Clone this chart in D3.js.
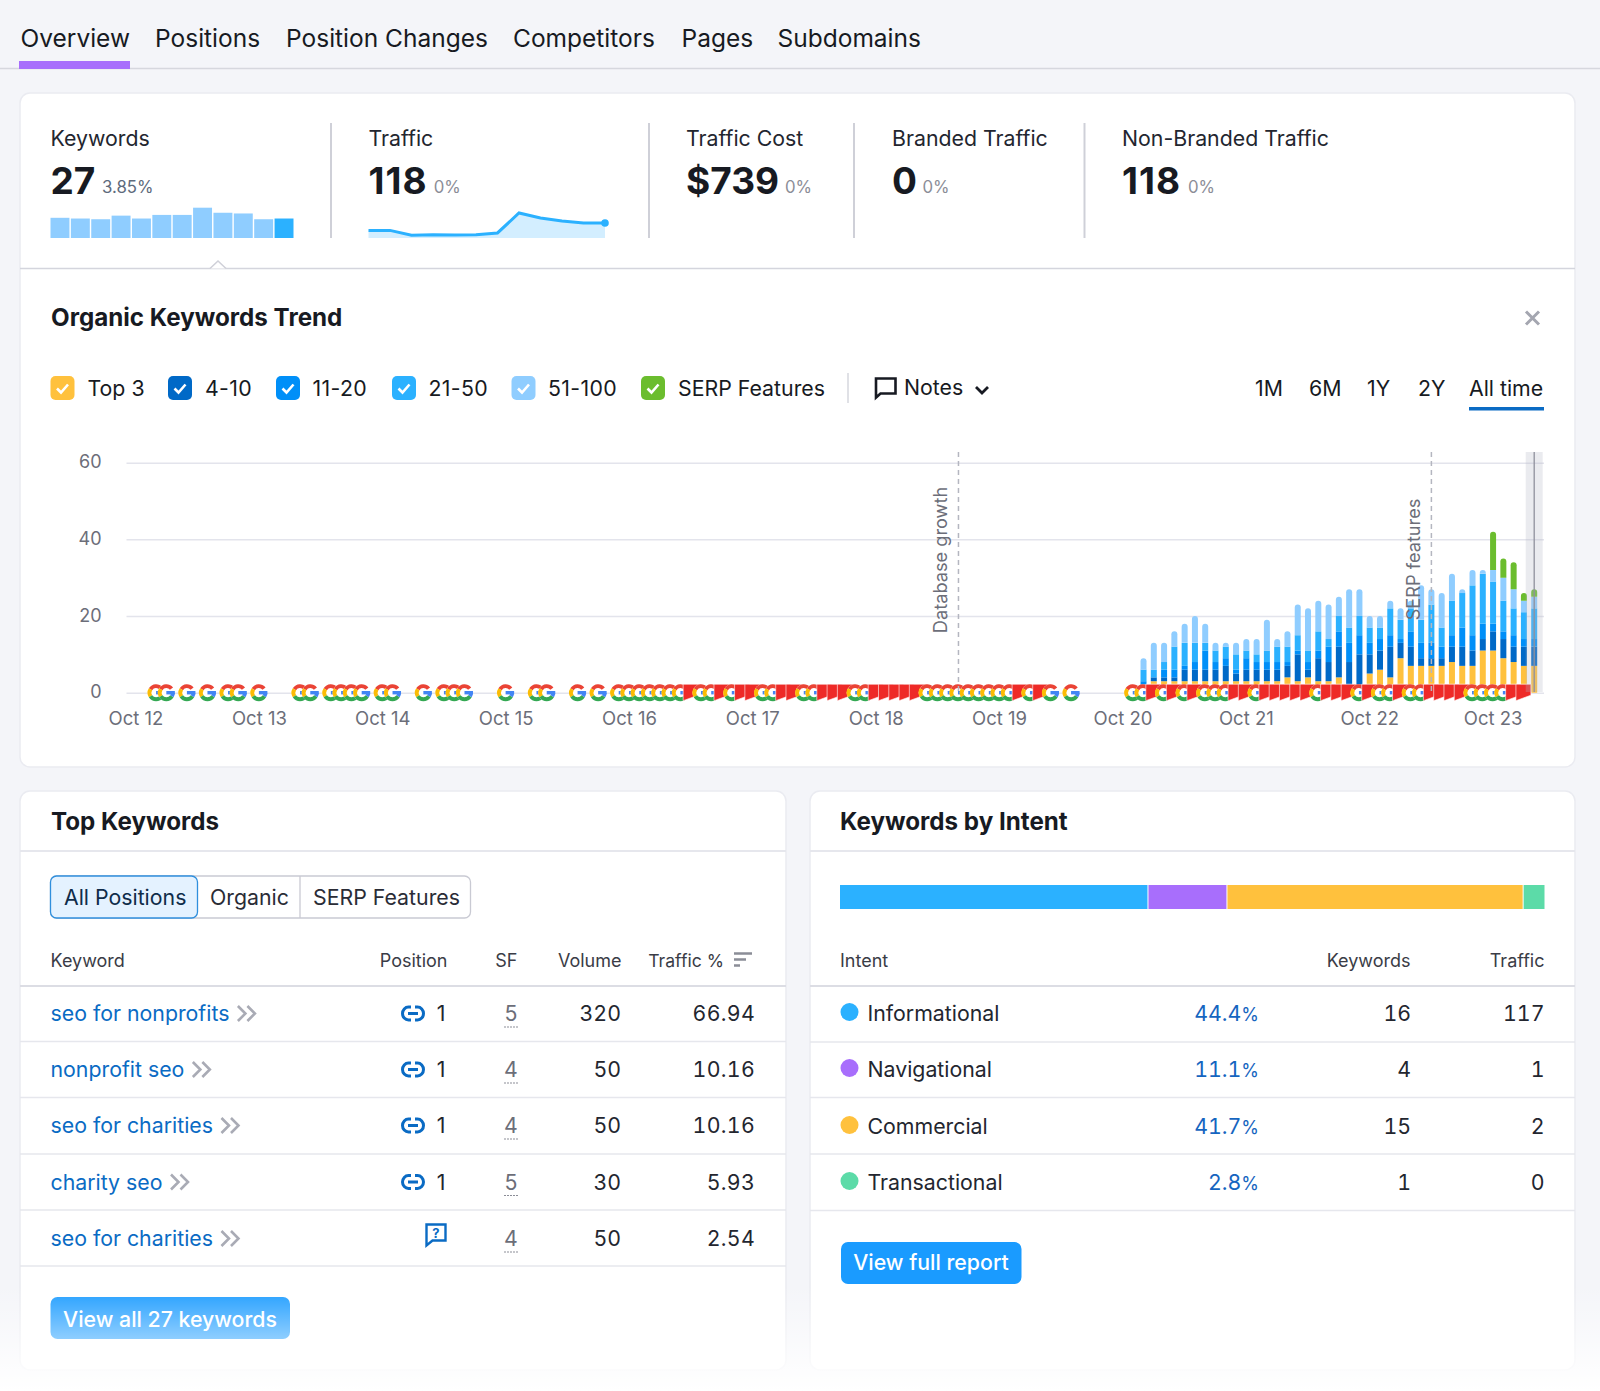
<!DOCTYPE html>
<html>
<head>
<meta charset="utf-8">
<script src="https://cdn.jsdelivr.net/npm/d3@7"></script>
<style>
  html, body { margin: 0; padding: 0; background: #f4f5f9; }
  svg { display: block; }
  text { font-family: Inter, "Noto Sans", sans-serif; }
  .num { font-variant-numeric: tabular-nums; }
</style>
</head>
<body>
<div id="page"></div>
<script>
// trend chart, one entry per month, first bar sits at barStart
var yearLabels = ["Oct 12","Oct 13","Oct 14","Oct 15","Oct 16","Oct 17","Oct 18","Oct 19","Oct 20","Oct 21","Oct 22","Oct 23"];
var yearMonths = [0,12,24,36,48,60,72,84,96,108,120,132];
var yTicks = [0,20,40,60];
var barStart = 98;
var top3    = [0,3,3,3,3,3,3,3,3,3,3,3,3,3,4,3,4,3,3,4,0,0,5,6,4,9,7,7,7,7,8,7,7,11,11,9,8,7,7];
var pos4_10 = [2,1,1,1,3,3,3,3,4,2,3,3,3,3,3,7,2,6,5,8,8,10,5,5,8,4,5,2,2,2,4,5,4,3,5,5,4,5,5];
var pos11_20= [1,0,2,2,1,2,5,2,2,1,3,2,2,2,1,1,2,2,4,4,5,5,3,3,3,1,4,4,4,3,3,5,4,4,2,2,3,2,2];
var pos21_50= [3,2,2,6,6,5,2,3,3,4,2,2,3,4,4,4,3,5,2,4,4,5,4,3,7,5,6,6,10,5,9,9,13,13,11,8,7,7,8];
var pos51_100=[3,7,5,4,5,7,5,2,1,3,3,4,8,2,4,8,11,8,9,5,10,7,3,3,2,3,2,9,4,9,7,1,4,1,3,6,5,3,3];
var serpBars= [0,0,0,0,0,0,0,0,0,0,0,0,0,0,0,0,0,0,0,0,0,0,0,0,0,0,0,0,0,0,0,0,0,0,10,5,7,2,2];
var stackKeys = ["top3","pos4_10","pos11_20","pos21_50","pos51_100","serp"];
var stackColors = ["#ffc13d","#0069c7","#008ff8","#2bb1ff","#8fcdff","#6bbd2e"];

// baseline markers, by month index
var googleMarks = [2,3,5,7,9,10,12,16,17,19,20,21,22,24,25,28,30,31,32,36,39,40,43,45,47,48,49,50,51,52,53,55,56,58,61,62,65,66,70,71,77,78,79,80,81,82,83,84,85,87,89,91,97,98,100,102,104,105,106,109,115,119,121,122,124,125,130,131,132,133];
var flagMarks = [54,57,59,60,63,64,67,68,69,72,73,74,75,76,86,88,99,101,103,107,108,110,111,112,113,114,116,117,118,120,123,126,127,128,129,134,135];
var notesAt = [80,126];
var notesText = ["Database growth","SERP features"];
var hoverMonth = 136;

// summary strip
var statNames = ["Keywords","Traffic","Traffic Cost","Branded Traffic","Non-Branded Traffic"];
var statValues = ["27","118","$739","0","118"];
var statDeltas = ["3.85%","0%","0%","0%","0%"];
var keywordSpark = [28,27,26,31,27,32,32,42,35,34,26,27];
var trafficSpark = [60,60,21,26,24,26,40,197,158,134,118,118];

// tabs and legend
var tabNames = ["Overview","Positions","Position Changes","Competitors","Pages","Subdomains"];
var legendNames = ["Top 3","4-10","11-20","21-50","51-100","SERP Features"];
var rangeNames = ["1M","6M","1Y","2Y","All time"];

// top keywords table
var keywords = ["seo for nonprofits","nonprofit seo","seo for charities","charity seo","seo for charities"];
var positions = ["1","1","1","1",""];
var sfCounts = [5,4,4,5,4];
var volumes = [320,50,50,30,50];
var trafficShare = ["66.94","10.16","10.16","5.93","2.54"];

// intent table
var intents = ["Informational","Navigational","Commercial","Transactional"];
var intentPct = [44.4,11.1,41.7,2.8];
var intentKeywords = [16,4,15,1];
var intentTraffic = [117,1,2,0];
var intentColors = ["#2bb1ff","#a86efc","#ffc13d","#5cdba8"];
// segment widths in the picture, they don't quite follow the table
var intentShare = [43.6,11.2,42.0,3.1];

var svg = d3.select("#page").append("svg").attr("width", 1600).attr("height", 1391);
var defs = svg.append("defs");
var INK = "#171a22", GREY = "#6c6e79", LINE = "#e3e4ec", BLUE = "#0a6bc4";
var BODY = 21.3;

function txt(x, y, s, size, color, weight, anchor) {
  return svg.append("text").attr("x", x).attr("y", y).attr("dy", "0.36em")
    .attr("font-size", size).attr("fill", color || INK)
    .attr("font-weight", weight || 400).attr("text-anchor", anchor || "start").text(s);
}
function hline(x1, x2, y, color, w) {
  svg.append("line").attr("x1", x1).attr("x2", x2).attr("y1", y).attr("y2", y)
    .attr("stroke", color || LINE).attr("stroke-width", w || 1.5);
}
function vline(x, y1, y2, color, w) {
  svg.append("line").attr("x1", x).attr("x2", x).attr("y1", y1).attr("y2", y2)
    .attr("stroke", color || "#cfd0d8").attr("stroke-width", w || 2);
}
function card(x, y, w, h) {
  svg.append("rect").attr("x", x).attr("y", y).attr("width", w).attr("height", h).attr("rx", 10)
    .attr("fill", "#fff").attr("stroke", "#eaebf1").attr("stroke-width", 1.5);
}

// ---- tabs
var tabX = [20.5,155,286,513,681.5,777.5];
tabNames.forEach(function(t, i){ txt(tabX[i], 38, t, 24.5, INK); });
hline(0, 1600, 68.5, "#d6d7de", 1.5);
svg.append("rect").attr("x", 19).attr("y", 61).attr("width", 111).attr("height", 8).attr("fill", "#a86efc");

// ---- cards
card(20, 93, 1555, 674);
card(20, 791, 766, 579);
card(810, 791, 765, 579);

// ---- summary strip
var statX = [50.5,368.5,686,892,1122];
var deltaX = [102,433.7,785,922.5,1188];
statNames.forEach(function(n, i){
  txt(statX[i], 138, n, 21.3, "#23262f");
  var big = txt(statX[i], 180.5, statValues[i], 37, INK, 700);
  if (statValues[i] == "118") big.attr("letter-spacing", 1.1);
  txt(deltaX[i], 187, statDeltas[i], 16.8, i == 0 ? "#5e6a7c" : "#8b8d97");
});
[331,649,854,1084.5].forEach(function(x){ vline(x, 123, 238); });

var kwX = d3.scaleBand().domain(d3.range(keywordSpark.length)).range([50.5,293.5]).paddingInner(0.07);
var kwY = d3.scaleLinear().domain([0,42]).range([238,207.7]);
svg.append("g").selectAll("rect").data(keywordSpark).enter().append("rect")
  .attr("x", function(d, i){ return kwX(i); }).attr("width", kwX.bandwidth())
  .attr("y", function(d){ return kwY(d); }).attr("height", function(d){ return kwY(0) - kwY(d); })
  .attr("fill", function(d, i){ return i == keywordSpark.length - 1 ? "#2bb1ff" : "#8fcdff"; });

var trX = d3.scaleLinear().domain([0,trafficSpark.length - 1]).range([368.5,605]);
var trY = d3.scaleLinear().domain([0,197]).range([238,213]);
svg.append("path").datum(trafficSpark).attr("fill", "#d3eeff")
  .attr("d", d3.area().x(function(d, i){ return trX(i); }).y0(238).y1(function(d){ return trY(d); }));
svg.append("path").datum(trafficSpark).attr("fill", "none").attr("stroke", "#2bb1ff").attr("stroke-width", 3)
  .attr("d", d3.line().x(function(d, i){ return trX(i); }).y(function(d){ return trY(d); }));
svg.append("circle").attr("cx", trX(trafficSpark.length - 1)).attr("cy", trY(118)).attr("r", 3.8).attr("fill", "#2bb1ff");

hline(20, 1575, 268.5, "#d4d5dd", 1.5);
svg.append("path").attr("d", "M210,268.5L218,261L226,268.5").attr("fill", "#fff").attr("stroke", "#cfd0d8").attr("stroke-width", 1.5);

// ---- trend header
txt(51, 317, "Organic Keywords Trend", 24.2, INK, 700);
svg.append("path").attr("d", "M1526,311.5L1539,324.5M1539,311.5L1526,324.5").attr("stroke", "#a4a6b0").attr("stroke-width", 3).attr("fill", "none");

var legendBoxX = [50.5,168,276,392,511.5,641];
var legendTextX = [87.5,205,312.5,428.5,548,678];
var legendColors = stackColors.slice();
legendNames.forEach(function(n, i){
  svg.append("rect").attr("x", legendBoxX[i]).attr("y", 376).attr("width", 24).attr("height", 24).attr("rx", 5).attr("fill", legendColors[i]);
  svg.append("path").attr("d", "M" + (legendBoxX[i] + 6.5) + ",388.5l4,4l7,-8").attr("fill", "none").attr("stroke", "#fff").attr("stroke-width", 2.6);
  var t = txt(legendTextX[i], 388, n, BODY, INK);
  if (i > 0 && i < 5) t.attr("letter-spacing", 0.35);
});
vline(848, 373, 403, "#d6d7de", 1.5);
svg.append("path").attr("d", "M876,378.5h19.5v15h-15l-4.5,4z").attr("fill", "none").attr("stroke", INK).attr("stroke-width", 2.6);
txt(904, 387, "Notes", BODY, INK);
svg.append("path").attr("d", "M976,387l6,6l6,-6").attr("fill", "none").attr("stroke", INK).attr("stroke-width", 2.8);
var rangeX = [1255,1309,1367,1418,1469];
rangeNames.forEach(function(n, i){ txt(rangeX[i], 388, n, BODY, INK); });
svg.append("rect").attr("x", 1469).attr("y", 407).attr("width", 75).attr("height", 3.5).attr("fill", BLUE);

// ---- trend chart
var x = d3.scaleLinear().domain([0,136]).range([136,1534.2]);
var y = d3.scaleLinear().domain([0,60]).range([692.7,462.7]);

var gridAxis = d3.axisLeft(y).tickValues(yTicks).tickSize(-1417.5).tickPadding(25);
var gridG = svg.append("g").attr("transform", "translate(126.5,0)").call(gridAxis);
gridG.select(".domain").remove();
gridG.selectAll("line").attr("stroke", "#e3e4ec").attr("stroke-width", 1.5);
gridG.selectAll("text").attr("font-size", 18).attr("fill", GREY).attr("dy", "0.28em");

var xAxis = d3.axisBottom(x).tickValues(yearMonths).tickFormat(function(d, i){ return yearLabels[i]; }).tickSize(0).tickPadding(0);
var xG = svg.append("g").attr("transform", "translate(-0.5,712)").call(xAxis);
xG.select(".domain").remove();
xG.selectAll("text").attr("font-size", 18.5).attr("fill", GREY);

var rows = top3.map(function(d, i){
  return { month: barStart + i, top3: d, pos4_10: pos4_10[i], pos11_20: pos11_20[i], pos21_50: pos21_50[i], pos51_100: pos51_100[i], serp: serpBars[i] };
});
var series = d3.stack().keys(stackKeys)(rows);
var barW = 6;
series.forEach(function(s, k){
  svg.append("g").attr("fill", stackColors[k]).selectAll("path").data(s).enter().append("path")
    .attr("d", function(d){
      var left = x(d.data.month) - barW / 2, y0 = y(d[0]), y1 = y(d[1]);
      if (d[1] == d[0]) return "";
      var isTop = stackKeys.slice(k + 1).every(function(key){ return d.data[key] == 0; });
      var p = d3.path(), r = isTop ? 3 : 0;
      p.moveTo(left, y0);
      p.lineTo(left, y1 + r);
      if (r) p.arcTo(left, y1, left + r, y1, r);
      p.lineTo(left + barW - r, y1);
      if (r) p.arcTo(left + barW, y1, left + barW, y1 + r, r);
      p.lineTo(left + barW, y0);
      p.closePath();
      return p.toString();
    });
});

// google and flag markers, later months cover earlier ones
var ringArc = d3.arc().innerRadius(4.6).outerRadius(8.5);
function deg(a){ return a * Math.PI / 180; }
function drawGoogle(g) {
  g.append("circle").attr("r", 8.5).attr("fill", "#fff");
  [[-58,52,"#ea4335"],[-122,-58,"#fbbc05"],[122,238,"#34a853"],[90,122,"#4285f4"]].forEach(function(a){
    g.append("path").attr("fill", a[2]).attr("d", ringArc({ startAngle: deg(a[0]), endAngle: deg(a[1]) }));
  });
  g.append("rect").attr("x", 0).attr("y", -1.7).attr("width", 8.5).attr("height", 3.4).attr("fill", "#4285f4");
}
var marks = googleMarks.map(function(m){ return { m: m, k: "g" }; })
  .concat(flagMarks.map(function(m){ return { m: m, k: "f" }; }))
  .sort(function(a, b){ return a.m - b.m; });
marks.forEach(function(d){
  var g = svg.append("g").attr("transform", "translate(" + (x(d.m) - 0.5) + "," + y(0) + ")");
  if (d.k == "g") drawGoogle(g);
  else g.append("path").attr("fill", "#ee2a27").attr("stroke", "#fff").attr("stroke-width", 0.6).attr("d", "M-7.5,-8.5H7.5V2.5L-7.5,8Z");
});

// notes and hover band
notesAt.forEach(function(m, i){
  svg.append("line").attr("x1", x(m)).attr("x2", x(m)).attr("y1", 452).attr("y2", 692)
    .attr("stroke", "#b4b6c0").attr("stroke-width", 1.5).attr("stroke-dasharray", "5,4");
});
[[940.5,560],[1413,559.5]].forEach(function(p, i){
  svg.append("text").attr("transform", "translate(" + p[0] + "," + p[1] + ") rotate(-90)").attr("text-anchor", "middle").attr("dy", "0.36em")
    .attr("font-size", 18.2).attr("fill", GREY).text(notesText[i]);
});
svg.append("rect").attr("x", x(hoverMonth) - 8.5).attr("y", 452).attr("width", 17).attr("height", 240).attr("fill", "#b4b6c4").attr("fill-opacity", 0.28);
vline(x(hoverMonth), 452, 692, "#8f919c", 1.3);

// ---- top keywords
txt(51, 821.5, "Top Keywords", 24.2, INK, 700);
hline(20, 786, 851, "#e6e7ed", 2);
svg.append("rect").attr("x", 50.5).attr("y", 876).attr("width", 420).attr("height", 42).attr("rx", 6).attr("fill", "#fff").attr("stroke", "#c9cad3").attr("stroke-width", 1.3);
svg.append("rect").attr("x", 50.5).attr("y", 876).attr("width", 147).attr("height", 42).attr("rx", 6).attr("fill", "#e4f2ff").attr("stroke", "#2f8fdd").attr("stroke-width", 1.3);
vline(300, 876, 918, "#c9cad3", 1.3);
txt(64, 897, "All Positions", BODY, "#0f2c4a");
txt(210, 897, "Organic", BODY, "#2a2c36");
txt(313, 897, "SERP Features", BODY, "#2a2c36");

txt(50.5, 961, "Keyword", 18, "#3a3c46");
txt(447.5, 961, "Position", 18, "#3a3c46", 400, "end");
txt(517.5, 961, "SF", 18, "#3a3c46", 400, "end");
txt(621.5, 961, "Volume", 18, "#3a3c46", 400, "end");
txt(724, 961, "Traffic %", 17.6, "#3a3c46", 400, "end");
svg.append("path").attr("d", "M734,953.5h18M734,959.5h12M734,965.5h6").attr("stroke", "#8b8d97").attr("stroke-width", 2.6).attr("fill", "none");
hline(20, 786, 986, "#dcdde4", 2);

var rowY = [1013.5,1069.5,1125.5,1182,1238.5];
var rowLines = [1041.5,1097.5,1154,1210,1266];
keywords.forEach(function(k, i){
  var c = rowY[i];
  var t = txt(50.5, c, k, BODY, "#0a6bc4");
  var endX = 50.5 + t.node().getComputedTextLength() + 8.5;
  svg.append("path").attr("d", "M" + endX + "," + (c - 7.5) + "l7.5,7.5l-7.5,7.5M" + (endX + 9.5) + "," + (c - 7.5) + "l7.5,7.5l-7.5,7.5")
    .attr("fill", "none").attr("stroke", "#a9abb5").attr("stroke-width", 2.6);
  if (positions[i]) {
    var g = svg.append("g").attr("transform", "translate(413," + c + ")");
    g.append("path").attr("d", "M-2,-6.5H-4.5a6,6.5 0 0 0 0,13H-2M2,-6.5H4.5a6,6.5 0 0 1 0,13H2M-5,0H5")
      .attr("fill", "none").attr("stroke", "#0a6bc4").attr("stroke-width", 3);
    txt(441, c, positions[i], BODY, "#23262f", 400, "middle");
  } else {
    var q = svg.append("g").attr("transform", "translate(425.5," + (c - 15) + ")");
    q.append("path").attr("d", "M1,1H20V17H7L1,22Z").attr("fill", "none").attr("stroke", "#0a6bc4").attr("stroke-width", 2.4);
    q.append("text").attr("x", 10.5).attr("y", 14).attr("text-anchor", "middle").attr("font-size", 13).attr("font-weight", 700).attr("fill", "#0a6bc4").text("?");
  }
  txt(511, c, sfCounts[i], BODY, GREY, 400, "middle");
  svg.append("line").attr("x1", 504).attr("x2", 518).attr("y1", c + 13.5).attr("y2", c + 13.5)
    .attr("stroke", "#8b8d97").attr("stroke-width", 1).attr("stroke-dasharray", "2,1");
  txt(621, c, volumes[i], BODY, "#23262f", 400, "end").attr("class", "num");
  txt(755, c, trafficShare[i], BODY, "#23262f", 400, "end").attr("class", "num").attr("letter-spacing", 0.3);
  hline(20, 786, rowLines[i], "#e6e7ed", 1.5);
});
svg.append("rect").attr("x", 50.5).attr("y", 1297).attr("width", 239.5).attr("height", 42).attr("rx", 7).attr("fill", "#1a9bff");
txt(170, 1319, "View all 27 keywords", BODY, "#fff", 500, "middle");

// ---- keywords by intent
txt(840, 821.5, "Keywords by Intent", 24.2, INK, 700);
hline(810, 1575, 851, "#e6e7ed", 2);
var barX = d3.scaleLinear().domain([0,d3.sum(intentShare)]).range([840,1544.5]);
var acc = 0;
intentShare.forEach(function(v, i){
  svg.append("rect").attr("x", barX(acc) + (i ? 1 : 0)).attr("y", 885).attr("width", barX(acc + v) - barX(acc) - (i ? 1 : 0)).attr("height", 24)
    .attr("fill", intentColors[i]);
  acc += v;
});
txt(840, 961, "Intent", 18, "#3a3c46");
txt(1410.5, 961, "Keywords", 18, "#3a3c46", 400, "end");
txt(1544.5, 961, "Traffic", 18, "#3a3c46", 400, "end");
hline(810, 1575, 986, "#dcdde4", 2);
var intentY = [1013.5,1069.5,1126.5,1182.5];
var intentLines = [1042,1097.5,1154,1210.5];
intents.forEach(function(n, i){
  var c = intentY[i];
  svg.append("circle").attr("cx", 849.5).attr("cy", c - 1.5).attr("r", 9).attr("fill", intentColors[i]);
  txt(867.5, c, n, BODY, "#23262f");
  var pct = txt(1259, c, intentPct[i].toFixed(1), BODY, "#1565c0", 400, "end").attr("class", "num");
  pct.append("tspan").attr("font-size", 18).text("%");
  txt(1411, c, intentKeywords[i], BODY, "#23262f", 400, "end").attr("class", "num");
  txt(1544.5, c, intentTraffic[i], BODY, "#23262f", 400, "end").attr("class", "num");
  hline(810, 1575, intentLines[i], "#e6e7ed", 1.5);
});
svg.append("rect").attr("x", 841).attr("y", 1242).attr("width", 180.5).attr("height", 42).attr("rx", 7).attr("fill", "#1a9bff");
txt(931, 1262.5, "View full report", BODY, "#fff", 500, "middle");

// ---- page fades out to white at the bottom
var fade = defs.append("linearGradient").attr("id", "fade").attr("x1", 0).attr("x2", 0).attr("y1", 0).attr("y2", 1);
fade.append("stop").attr("offset", 0).attr("stop-color", "#fff").attr("stop-opacity", 0);
fade.append("stop").attr("offset", 1).attr("stop-color", "#fff").attr("stop-opacity", 1);
svg.append("rect").attr("x", 0).attr("y", 1285).attr("width", 1600).attr("height", 106).attr("fill", "url(#fade)");
</script>
</body>
</html>
